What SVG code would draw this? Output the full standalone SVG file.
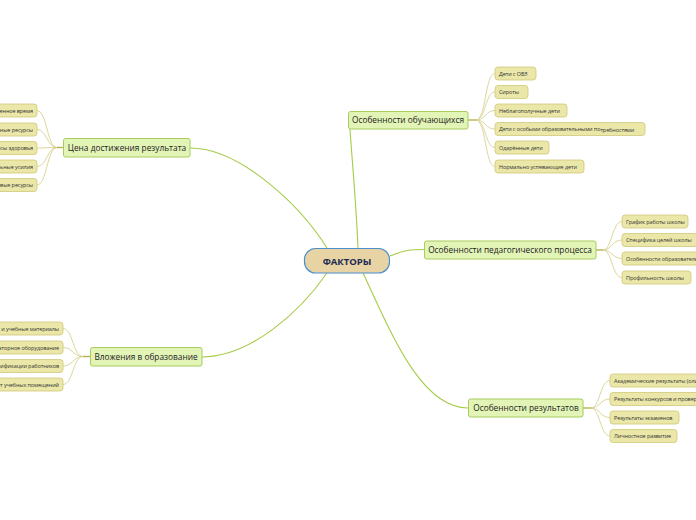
<svg xmlns="http://www.w3.org/2000/svg" width="696" height="520" viewBox="0 0 696 520">
<style>
.main rect{fill:#e2f4b6;stroke:#a9cc5e;stroke-width:1}
.main text{font-family:"Open Sans","Noto Sans","DejaVu Sans",sans-serif;font-size:8.3px;fill:#222}
.leaf rect{fill:#eae7a8;stroke:#d0c878;stroke-width:0.8}
.leaf text{font-family:"Open Sans","Noto Sans","DejaVu Sans",sans-serif;font-size:5.5px;fill:#333;letter-spacing:-0.1px}
.c1{fill:none;stroke:#a6cc48;stroke-width:1.1}
.c2{fill:none;stroke:#d6d192;stroke-width:0.9}
.stub{fill:none;stroke:#b8b050;stroke-width:1.4}
</style>
<rect width="696" height="520" fill="#fff"/>
<g id="connectors">
<path class="c1" d="M358,248 C356,200 352,160 350,129"/>
<path class="c1" d="M327,248 C300,205 240,148 190,148"/>
<path class="c1" d="M390,256 C405,250 410,249.5 424,249.5"/>
<path class="c1" d="M327,273 C300,312 250,357 202,357"/>
<path class="c1" d="M363,273 C390,330 420,408 468,408"/>
<path class="stub" d="M468,120 L476,120"/>
<path class="c2" d="M476,120 C486,120 485,73.5 495,73.5"/>
<path class="c2" d="M476,120 C486,120 485,92 495,92"/>
<path class="c2" d="M476,120 C486,120 485,110.5 495,110.5"/>
<path class="c2" d="M476,120 C486,120 485,129 495,129"/>
<path class="c2" d="M476,120 C486,120 485,147.5 495,147.5"/>
<path class="c2" d="M476,120 C486,120 485,166.5 495,166.5"/>
<path class="stub" d="M63,147.5 L57,147.5"/>
<path class="c2" d="M57,147.5 C47,147.5 47,110.5 37,110.5"/>
<path class="c2" d="M57,147.5 C47,147.5 47,129.5 37,129.5"/>
<path class="c2" d="M57,147.5 C47,147.5 47,148 37,148"/>
<path class="c2" d="M57,147.5 C47,147.5 47,166.5 37,166.5"/>
<path class="c2" d="M57,147.5 C47,147.5 47,185 37,185"/>
<path class="stub" d="M90,356.5 L83,356.5"/>
<path class="c2" d="M83,356.5 C73,356.5 73,328.5 63,328.5"/>
<path class="c2" d="M83,356.5 C73,356.5 73,347.5 63,347.5"/>
<path class="c2" d="M83,356.5 C73,356.5 73,366 63,366"/>
<path class="c2" d="M83,356.5 C73,356.5 73,384.5 63,384.5"/>
<path class="stub" d="M596,250 L603,250"/>
<path class="c2" d="M603,250 C612,250 612,221.5 622,221.5"/>
<path class="c2" d="M603,250 C612,250 612,240 622,240"/>
<path class="c2" d="M603,250 C612,250 612,258.5 622,258.5"/>
<path class="c2" d="M603,250 C612,250 612,277.5 622,277.5"/>
<path class="stub" d="M583,408 L591,408"/>
<path class="c2" d="M591,408 C600,408 600,380.5 610,380.5"/>
<path class="c2" d="M591,408 C600,408 600,399 610,399"/>
<path class="c2" d="M591,408 C600,408 600,417.5 610,417.5"/>
<path class="c2" d="M591,408 C600,408 600,436 610,436"/>
</g>
<g id="center">
<rect x="304.5" y="248.5" width="85" height="24.5" rx="11" fill="#e8d3a4" stroke="#4a8fd0" stroke-width="1.2"/>
<text x="347" y="264.5" text-anchor="middle" font-family="'Open Sans','Noto Sans','DejaVu Sans',sans-serif" font-weight="bold" font-size="9.5" fill="#1c2a52">ФАКТОРЫ</text>
</g>
<g id="n-obuch" class="main"><rect x="348.5" y="111.5" width="119.5" height="17.5" rx="2"/><text x="408" y="123.2" text-anchor="middle">Особенности обучающихся</text></g>
<g id="n-cena" class="main"><rect x="63.5" y="138.5" width="126.5" height="18.5" rx="2"/><text x="127" y="150.7" text-anchor="middle">Цена достижения результата</text></g>
<g id="n-ped" class="main"><rect x="424.5" y="241" width="171.5" height="18" rx="2"/><text x="510" y="252.9" text-anchor="middle">Особенности педагогического процесса</text></g>
<g id="n-vloz" class="main"><rect x="90.5" y="347.5" width="111.5" height="18.5" rx="2"/><text x="146" y="359.7" text-anchor="middle">Вложения в образование</text></g>
<g id="n-rez" class="main"><rect x="468.5" y="399" width="114.5" height="18" rx="2"/><text x="526" y="410.9" text-anchor="middle">Особенности результатов</text></g>
<g id="l1" class="leaf"><rect x="495" y="67" width="41" height="13" rx="3"/><text x="499" y="75.5">Дети с ОВЗ</text></g>
<g id="l2" class="leaf"><rect x="495" y="85.5" width="33" height="13" rx="3"/><text x="499" y="94">Сироты</text></g>
<g id="l3" class="leaf"><rect x="495" y="104" width="72" height="13" rx="3"/><text x="499" y="112.5">Неблагополучные дети</text></g>
<g id="l4" class="leaf"><rect x="495" y="122.5" width="150" height="13" rx="3"/><text x="499" y="131">Дети с особыми образовательными по<tspan dy="1.2">требностями</tspan></text></g>
<g id="l5" class="leaf"><rect x="495" y="141" width="54" height="13" rx="3"/><text x="499" y="149.5">Одарённые дети</text></g>
<g id="l6" class="leaf"><rect x="495" y="160" width="89" height="13" rx="3"/><text x="499" y="168.5">Нормально успевающие дети</text></g>
<g id="l7" class="leaf"><rect x="-60" y="104" width="97" height="13" rx="3"/><text x="33" y="112.5" text-anchor="end">Затраченное время</text></g>
<g id="l8" class="leaf"><rect x="-60" y="123" width="97" height="13" rx="3"/><text x="33" y="131.5" text-anchor="end">Материальные ресурсы</text></g>
<g id="l9" class="leaf"><rect x="-60" y="141.5" width="97" height="13" rx="3"/><text x="33" y="150" text-anchor="end">Ресурсы здоровья</text></g>
<g id="l10" class="leaf"><rect x="-60" y="160" width="97" height="13" rx="3"/><text x="33" y="168.5" text-anchor="end">Дополнительные усилия</text></g>
<g id="l11" class="leaf"><rect x="-60" y="178.5" width="97" height="13" rx="3"/><text x="33" y="187" text-anchor="end">Кадровые ресурсы</text></g>
<g id="l12" class="leaf"><rect x="-60" y="322" width="123" height="13" rx="3"/><text x="59" y="330.5" text-anchor="end">Учебники и учебные материалы</text></g>
<g id="l13" class="leaf"><rect x="-60" y="341" width="123" height="13" rx="3"/><text x="59" y="349.5" text-anchor="end">Лабораторное оборудование</text></g>
<g id="l14" class="leaf"><rect x="-60" y="359.5" width="123" height="13" rx="3"/><text x="59" y="368" text-anchor="end">Повышение квалификации работников</text></g>
<g id="l15" class="leaf"><rect x="-60" y="378" width="123" height="13" rx="3"/><text x="59" y="386.5" text-anchor="end">Ремонт учебных помещений</text></g>
<g id="l16" class="leaf"><rect x="622" y="215" width="66" height="13" rx="3"/><text x="626" y="223.5">График работы школы</text></g>
<g id="l17" class="leaf"><rect x="622" y="233.5" width="76" height="13" rx="3"/><text x="626" y="242">Специфика целей школы</text></g>
<g id="l18" class="leaf"><rect x="622" y="252" width="120" height="13" rx="3"/><text x="626" y="260.5">Особенности образовательной программы</text></g>
<g id="l19" class="leaf"><rect x="622" y="271" width="69" height="13" rx="3"/><text x="626" y="279.5">Профильность школы</text></g>
<g id="l20" class="leaf"><rect x="610" y="374" width="120" height="13" rx="3"/><text x="614" y="382.5">Академические результаты (олимпиады)</text></g>
<g id="l21" class="leaf"><rect x="610" y="392.5" width="120" height="13" rx="3"/><text x="614" y="401">Результаты конкурсов и проверок</text></g>
<g id="l22" class="leaf"><rect x="610" y="411" width="69" height="13" rx="3"/><text x="614" y="419.5">Результаты экзаменов</text></g>
<g id="l23" class="leaf"><rect x="610" y="429.5" width="67" height="13" rx="3"/><text x="614" y="438">Личностное развитие</text></g>
</svg>
